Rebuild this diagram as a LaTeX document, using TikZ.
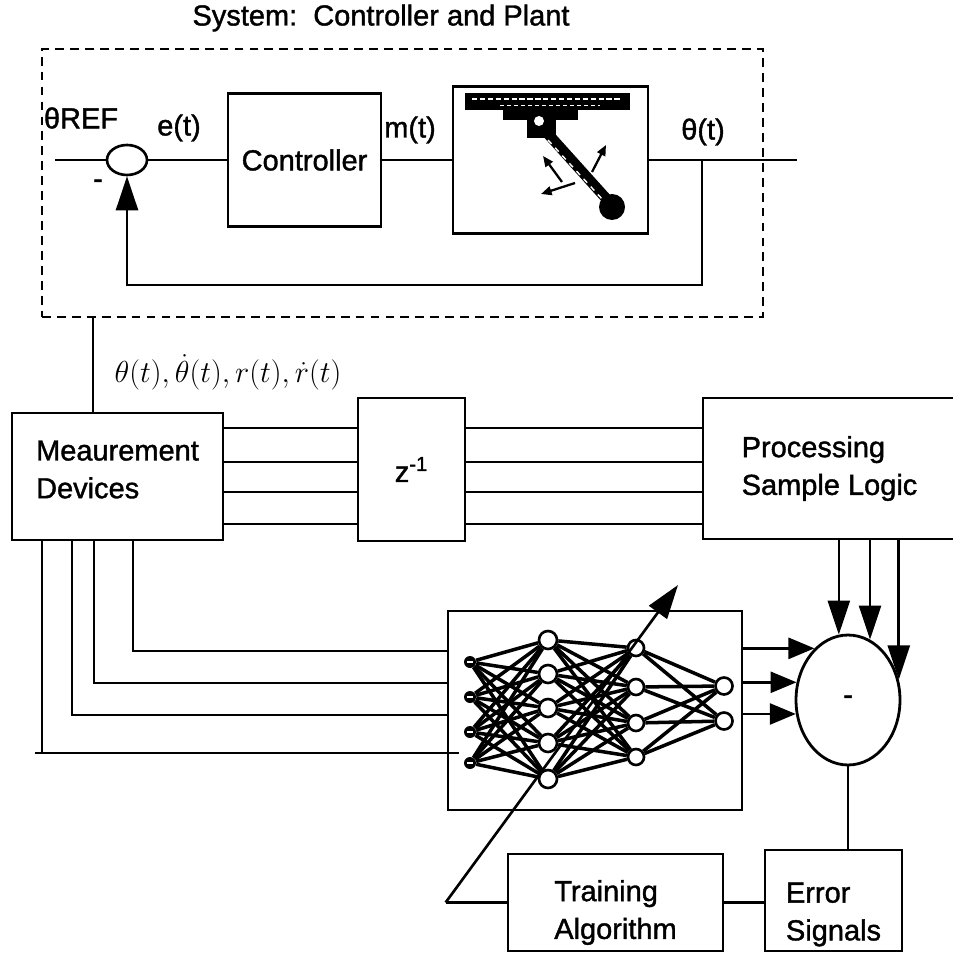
\documentclass[tikz,border=0pt]{standalone}
\usepackage{fontspec}
\setmainfont{Liberation Sans}[UprightFeatures={FakeBold=1.3}]
\usetikzlibrary{arrows.meta,positioning,shapes.geometric}

\begin{document}
\begin{tikzpicture}[
    x=0.02cm, y=-0.02cm,
    every node/.style={font=\fontsize{16.5}{21.5}\selectfont},
    blk/.style={rectangle, draw, line width=1.6pt, align=left, inner sep=0pt},
    sysbox/.style={rectangle, draw, line width=1.3pt, dash pattern=on 5pt off 3.5pt, inner sep=0pt},
    wire/.style={line width=1.5pt},
    arr/.style={wire, -{Triangle[length=0.68cm, width=0.44cm]}},
    sarr/.style={wire, -{Triangle[length=0.52cm, width=0.42cm]}},
    tarr/.style={line width=1.3pt, -{Triangle[length=6pt, width=5pt]}},
    neuron/.style={circle, draw, fill=white, line width=1.5pt, inner sep=0pt},
    inp/.style={circle, fill=black, minimum size=0.24cm, inner sep=0pt,
        path picture={\draw[white, line width=0.7pt] ([xshift=-1.8pt]path picture bounding box.center) -- ([xshift=1.8pt]path picture bounding box.center);}},
    syn/.style={line width=2pt}
]
    \useasboundingbox (0,0) rectangle (952,955);

    % === SYSTEM: CONTROLLER AND PLANT ===
    \node (title) at (381,18) {System:\ \ Controller and Plant};
    \node[sysbox, minimum width=14.42cm, minimum height=5.36cm] (sys) at (402.5,183) {};

    \node[ellipse, draw, line width=1.5pt, minimum width=0.8cm, minimum height=0.6cm, inner sep=0pt] (sum) at (127,160) {};
    \node[blk, minimum width=3.06cm, minimum height=2.66cm] (ctrl) at (304.5,160) {Controller};
    \node[blk, minimum width=3.9cm, minimum height=2.94cm] (plant) at (550.5,160) {};

    % plant sketch: rail, carriage, arm and bob
    \fill (465,93) rectangle (630,110);
    \draw[white, line width=0.7pt, dash pattern=on 3pt off 1.5pt] (472,99) -- (622,99);
    \draw[white, line width=0.5pt, dash pattern=on 2pt off 2pt] (500,105) -- (600,105);
    \fill (503,110) rectangle (578,120);
    \fill (527,112) rectangle (556,138);
    \draw[line width=6pt] (540,125) -- (612,205);
    \draw[white, line width=0.8pt, dash pattern=on 3pt off 3pt] (548,140) -- (603,200);
    \fill (612,207) circle (0.26cm);
    \fill[white] (539,121) circle (0.1cm);
    \draw[tarr] (592,172) -- (606,145);
    \draw[tarr] (575,183) -- (541,194);
    \draw[tarr] (562,182) -- (543,156);

    % signal path
    \coordinate (refin) at (55,160);
    \coordinate (out) at (797,160);
    \coordinate (fb) at (702,160);
    \draw[wire] (refin) -- (sum.west);
    \draw[wire] (sum.east) -- (ctrl.west);
    \draw[wire] (ctrl.east) -- (plant.west);
    \draw[wire] (plant.east) -- (out);
    \draw[arr] (fb) -- (fb |- 0,285) -| (sum.south);

    % labels
    \node (thref) at (81,118) {θREF};
    \node (minus) at (98,184) {-};
    \node (err) at (179,128) {e(t)};
    \node (mt) at (410,130) {m(t)};
    \node (tht) at (703,132) {θ(t)};

    % === MEASUREMENT AND DELAY ===
    \node[blk, minimum width=4.22cm, minimum height=2.54cm,
        label={[align=left, yshift=0.14cm]center:Meaurement\\Devices}] (meas) at (117.5,476.5) {};
    \node[blk, minimum width=2.14cm, minimum height=2.86cm] (delay) at (411.5,469.5) {z\textsuperscript{-1}};
    \node[blk, minimum width=5.06cm, minimum height=2.82cm] (proc) at (829.5,468.5) {Processing\\Sample Logic};

    \draw[wire] ([xshift=-0.49cm]meas.north) -- ([xshift=-0.49cm]meas.north |- sys.south);
    \node (states) at (228,372) {$\theta(t),\dot{\theta}(t),r(t),\dot{r}(t)$};

    \foreach \y in {428,462,492,524} {
        \draw[wire] (meas.east |- 0,\y) -- (delay.west |- 0,\y);
        \draw[wire] (delay.east |- 0,\y) -- (proc.west |- 0,\y);
    }

    % === NEURAL NETWORK ===
    \node[blk, minimum width=5.88cm, minimum height=3.98cm] (nnet) at (595,710.5) {};

    \foreach \y [count=\k] in {662,697,732,763}
        \node[inp] (i\k) at (470,\y) {};
    \foreach \y [count=\k] in {640,674,708,743,779}
        \node[neuron, minimum size=0.36cm] (h\k) at (548,\y) {};
    \foreach \y [count=\k] in {648,687,723,757}
        \node[neuron, minimum size=0.32cm] (g\k) at (636,\y) {};
    \foreach \y [count=\k] in {686,721}
        \node[neuron, minimum size=0.34cm] (o\k) at (724,\y) {};

    \foreach \a in {1,...,4}
        \foreach \b in {1,...,5}
            \draw[syn] (i\a) -- (h\b);
    \foreach \a in {1,...,5}
        \foreach \b in {1,...,4}
            \draw[syn] (h\a) -- (g\b);
    \foreach \a in {1,...,4}
        \foreach \b in {1,2}
            \draw[syn] (g\a) -- (o\b);

    % measured signals into the network
    \foreach \x/\y in {133/651, 94/683, 72/715}
        \draw[wire] (meas.south -| \x,0) |- (nnet.west |- 0,\y);
    \draw[wire] (meas.south -| 42,0) -- (42,753);
    \draw[wire] (35,753) -- ([xshift=0.24cm]nnet.west |- 0,753);

    % === COMPARISON ===
    \node[ellipse, draw, line width=1.6pt, minimum width=2.08cm, minimum height=2.6cm, inner sep=0pt] (diff) at (848,700) {-};

    \draw[arr] (proc.south -| diff.98) -- (diff.98);
    \draw[arr] (proc.south -| diff.70) -- (diff.70);
    \draw[arr] (proc.south -| diff.22) -- (diff.22);
    \draw[sarr] (nnet.east |- diff.123) -- (diff.123);
    \draw[sarr] (nnet.east |- diff.161) -- (diff.161);
    \draw[sarr] (nnet.east |- diff.195) -- (diff.195);

    % === TRAINING ===
    \node[blk, minimum width=4.3cm, minimum height=1.94cm,
        label={[align=left, yshift=-0.2cm]center:Training\\Algorithm}] (train) at (615.5,902.5) {};
    \node[blk, minimum width=2.74cm, minimum height=2.02cm,
        label={[align=left, yshift=-0.28cm]center:Error\\Signals}] (errsig) at (833.5,900.5) {};

    \draw[wire] (diff.south) -- (diff.south |- errsig.north);
    \draw[wire] (train.east) -- (errsig.west |- train.east);
    \coordinate (wtip) at (678,585);
    \draw[wire] (train.west) -- ++(-61,0) coordinate (bend);
    \draw[arr] (bend) -- (wtip);
\end{tikzpicture}
\end{document}
